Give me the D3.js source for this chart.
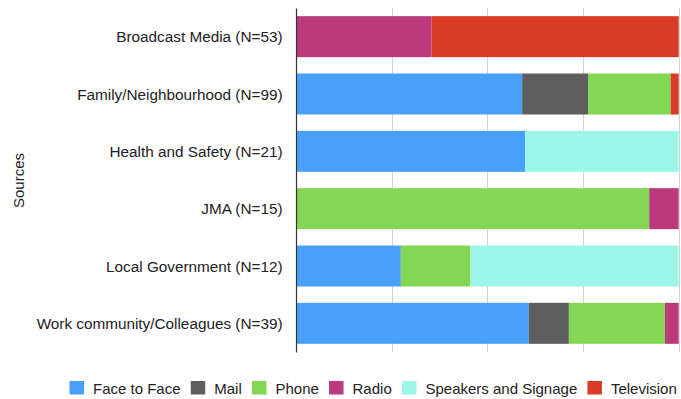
<!DOCTYPE html>
<html>
<head>
<meta charset="utf-8">
<script src="https://cdn.jsdelivr.net/npm/d3@7"></script>
<style>
  html, body { margin: 0; padding: 0; background: #fff; }
  svg { display: block; font-family: "Liberation Sans", Arial, Helvetica, sans-serif; }
</style>
</head>
<body>
<svg id="chart" width="681" height="399"></svg>
<script>
// Information sources and the channel through which each was received (share of respondents, %)
const sources = [
  "Broadcast Media (N=53)",
  "Family/Neighbourhood (N=99)",
  "Health and Safety (N=21)",
  "JMA (N=15)",
  "Local Government (N=12)",
  "Work community/Colleagues (N=39)"
];
const channels = ["Face to Face", "Mail", "Phone", "Radio", "Speakers and Signage", "Television"];
const channelColors = ["#48a0f8", "#5e5e5e", "#83d754", "#bb3a7c", "#9cf7e9", "#d93b25"];

const faceToFace = [0,    59.1, 59.9, 0,    27.4, 60.8];
const mail       = [0,    17.2, 0,    0,    0,    10.5];
const phone      = [0,    21.6, 0,    92.3, 18.2, 25.1];
const radio      = [35.4, 0,    0,    7.7,  0,    3.6];
const speakers   = [0,    0,    40.1, 0,    54.4, 0];
const television = [64.6, 2.1,  0,    0,    0,    0];

const xTicks = [0, 25, 50, 75, 100];

const seriesValues = [faceToFace, mail, phone, radio, speakers, television];
const rows = sources.map((s, i) => {
  const r = { source: s };
  channels.forEach((c, j) => { r[c] = seriesValues[j][i]; });
  return r;
});

const svg = d3.select("#chart");
const margin = { left: 296, right: 2.3, top: 8, bottom: 47 };
const W = 681, H = 399;

const x = d3.scaleLinear().domain([0, 100]).range([margin.left, W - margin.right]);
const y = d3.scaleBand().domain(sources).range([margin.top, H - margin.bottom])
  .paddingInner(0.285).paddingOuter(0.1425);
const color = d3.scaleOrdinal().domain(channels).range(channelColors);

// vertical gridlines
svg.append("g")
  .selectAll("line")
  .data(xTicks.filter(t => t > 0))
  .join("line")
  .attr("x1", d => Math.round(x(d)) + 0.5)
  .attr("x2", d => Math.round(x(d)) + 0.5)
  .attr("y1", margin.top)
  .attr("y2", H - margin.bottom)
  .attr("stroke", "#d4d4d4")
  .attr("stroke-width", 1);

// stacked bars
const stack = d3.stack().keys(channels)(rows);
svg.append("g")
  .selectAll("g")
  .data(stack)
  .join("g")
  .attr("fill", d => color(d.key))
  .selectAll("rect")
  .data(d => d)
  .join("rect")
  .attr("x", d => x(d[0]))
  .attr("width", d => Math.max(0, x(d[1]) - x(d[0])))
  .attr("y", d => y(d.data.source))
  .attr("height", y.bandwidth());

// category axis
const yAxis = svg.append("g")
  .attr("transform", `translate(${margin.left},0)`)
  .call(d3.axisLeft(y).tickSize(0).tickPadding(13.5).tickSizeOuter(0));
yAxis.select(".domain").attr("stroke", "#333").attr("stroke-width", 1.2);
yAxis.selectAll("text").attr("font-size", 15.3).attr("fill", "#222").attr("dy", "0.38em")
  .attr("font-family", "'Liberation Sans', Arial, Helvetica, sans-serif");

// axis title
svg.append("text")
  .attr("transform", `translate(24,180.5) rotate(-90)`)
  .attr("text-anchor", "middle")
  .attr("font-size", 15)
  .attr("fill", "#222")
  .text("Sources");

// legend
const legend = svg.append("g").attr("font-size", 15).attr("fill", "#222");
let lx = 69.5;
channels.forEach(c => {
  const g = legend.append("g").attr("transform", `translate(${lx},381)`);
  g.append("rect").attr("width", 14.5).attr("height", 13.5).attr("fill", color(c));
  const t = g.append("text").attr("x", 23.5).attr("y", 12.5).text(c);
  const w = t.node().getComputedTextLength();
  lx += 23.5 + w + 10.2;
});
</script>
</body>
</html>
